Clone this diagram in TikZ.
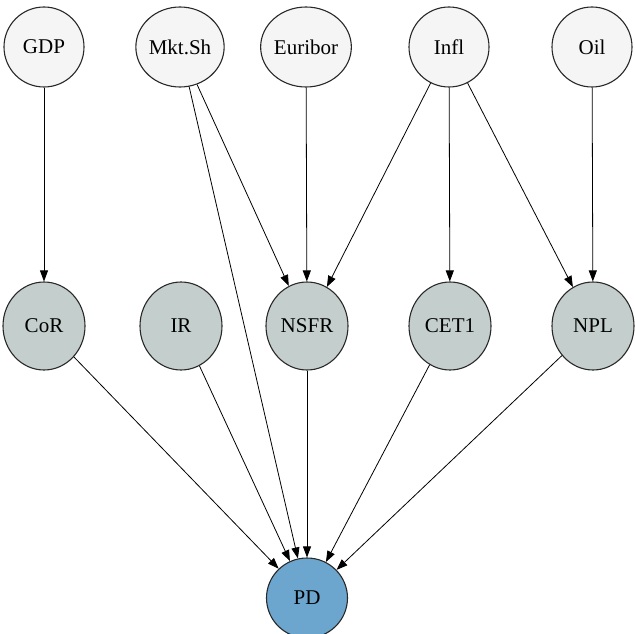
\documentclass[tikz,border=0pt]{standalone}
\usepackage{fontspec}
\setmainfont{Liberation Serif}
\usetikzlibrary{shapes.geometric,arrows.meta}
\definecolor{topfill}{RGB}{245,245,245}
\definecolor{midfill}{RGB}{196,206,204}
\definecolor{pdfill}{RGB}{108,166,206}
\definecolor{edgegray}{RGB}{40,40,40}
\begin{document}
\begin{tikzpicture}[x=1pt,y=-1pt,
  base/.style={draw=edgegray,line width=1.1pt,inner sep=0pt,font=\fontsize{21}{24}\selectfont},
  topnode/.style={base,ellipse,fill=topfill,minimum width=80pt,minimum height=80pt},
  midnode/.style={base,ellipse,fill=midfill,minimum width=82pt,minimum height=88pt},
  pdnode/.style={base,ellipse,fill=pdfill,minimum width=81pt,minimum height=80pt},
  conn/.style={draw=black,line width=0.8pt,-{Triangle[length=11pt,width=8pt]}}
]
\useasboundingbox (0,0) rectangle (635,634);
\node[topnode] (gdp) at (44,47) {GDP};
\node[topnode] (mkt) at (180,47) {Mkt.Sh};
\node[topnode] (eur) at (306,47) {Euribor};
\node[topnode] (infl) at (449,47) {Infl};
\node[topnode] (oil) at (592,47) {Oil};
\node[midnode] (cor) at (44,326) {CoR};
\node[midnode] (ir) at (181,326) {IR};
\node[midnode] (nsfr) at (307,326) {NSFR};
\node[midnode] (cet) at (450,326) {CET1};
\node[midnode] (npl) at (593,326) {NPL};
\node[pdnode] (pd) at (307,598) {PD};
\draw[conn] (gdp) -- (cor);
\draw[conn] (mkt) -- (nsfr);
\draw[conn] (mkt) -- (pd);
\draw[conn] (eur) -- (nsfr);
\draw[conn] (infl) -- (nsfr);
\draw[conn] (infl) -- (cet);
\draw[conn] (infl) -- (npl);
\draw[conn] (oil) -- (npl);
\draw[conn] (cor) -- (pd);
\draw[conn] (ir) -- (pd);
\draw[conn] (nsfr) -- (pd);
\draw[conn] (cet) -- (pd);
\draw[conn] (npl) -- (pd);
\end{tikzpicture}
\end{document}
